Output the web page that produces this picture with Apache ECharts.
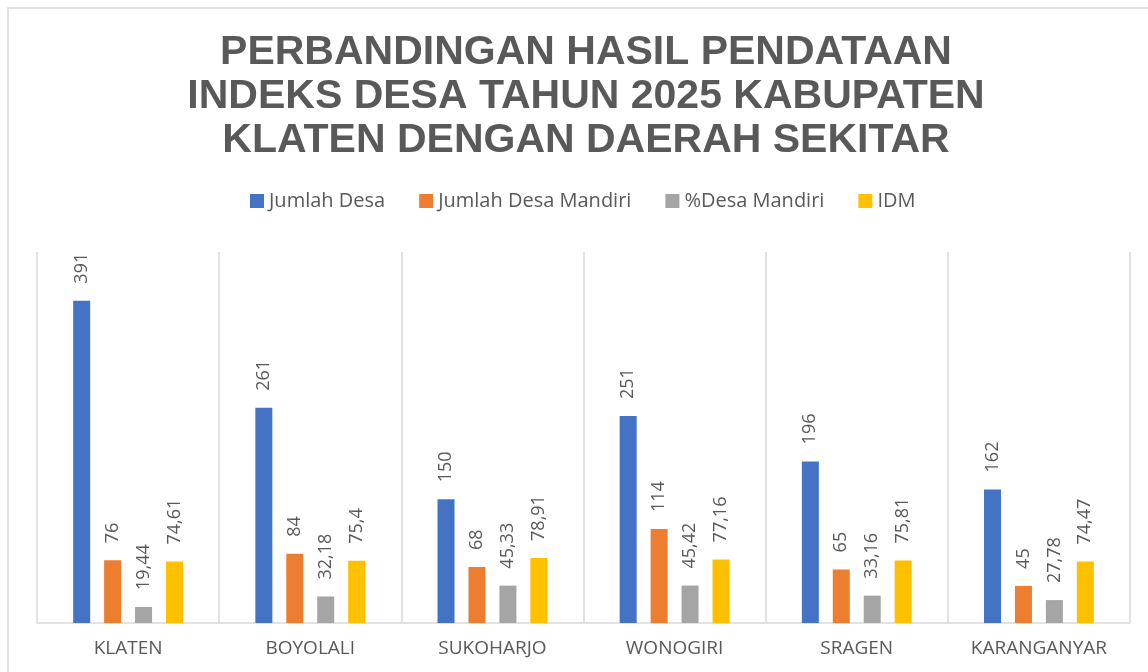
<!DOCTYPE html>
<html>
<head>
<meta charset="utf-8">
<script src="https://cdn.jsdelivr.net/npm/echarts@6/dist/echarts.min.js"></script>
<style>
html, body { margin: 0; padding: 0; background: #fff; }
#chart { width: 1148px; height: 672px; }
</style>
</head>
<body>
<div id="chart"></div>
<script>
var categories = ['KLATEN', 'BOYOLALI', 'SUKOHARJO', 'WONOGIRI', 'SRAGEN', 'KARANGANYAR'];
var jumlahDesa = [391, 261, 150, 251, 196, 162];
var jumlahMandiri = [76, 84, 68, 114, 65, 45];
var persenMandiri = [19.44, 32.18, 45.33, 45.42, 33.16, 27.78];
var idm = [74.61, 75.4, 78.91, 77.16, 75.81, 74.47];

var seriesNames = ['Jumlah Desa', 'Jumlah Desa Mandiri', '%Desa Mandiri', 'IDM'];
var colors = ['#4472C4', '#ED7D31', '#A5A5A5', '#FFC000'];

var myChart = echarts.init(document.getElementById('chart'));

function fmt(p) {
    // comma as decimal separator, like the original
    return String(p.value).replace('.', ',');
}

function makeSeries(name, data, color) {
    return {
        name: name,
        type: 'bar',
        data: data,
        barWidth: 17,
        barGap: '82%',
        itemStyle: { color: color },
        label: {
            show: true,
            position: 'top',
            rotate: 90,
            align: 'left',
            verticalAlign: 'middle',
            distance: 17,
            color: '#595959',
            fontSize: 18,
            fontFamily: 'Open Sans',
            formatter: fmt
        }
    };
}

var option = {
    animation: false,
    color: colors,
    title: {
        text: 'PERBANDINGAN HASIL PENDATAAN\nINDEKS DESA TAHUN 2025 KABUPATEN\nKLATEN DENGAN DAERAH SEKITAR',
        left: 581,
        top: 26,
        textAlign: 'center',
        textStyle: {
            color: '#595959',
            fontSize: 41,
            fontWeight: 'bold',
            fontFamily: 'Liberation Sans',
            lineHeight: 44
        }
    },
    legend: {
        data: seriesNames,
        top: 186,
        left: 245,
        icon: 'rect',
        itemWidth: 14,
        itemHeight: 14,
        itemGap: 34,
        textStyle: {
            color: '#595959',
            fontSize: 20,
            fontFamily: 'Open Sans'
        }
    },
    graphic: [{
        type: 'rect',
        shape: { x: 8, y: 8, width: 1200, height: 700 },
        style: { fill: 'none', stroke: '#d9d9d9', lineWidth: 1.5 },
        silent: true
    }],
    grid: {
        left: 37,
        right: 18,
        top: 252,
        bottom: 49
    },
    xAxis: {
        type: 'category',
        data: categories,
        axisTick: { show: false },
        axisLine: { lineStyle: { color: '#d9d9d9', width: 1.5 } },
        splitLine: { show: true, interval: 0, lineStyle: { color: '#d9d9d9', width: 1.5 } },
        axisLabel: {
            color: '#595959',
            fontSize: 19,
            fontFamily: 'Open Sans',
            margin: 16,
            interval: 0
        }
    },
    yAxis: {
        type: 'value',
        min: 0,
        max: 450,
        show: false,
        splitLine: { show: false }
    },
    series: [
        makeSeries(seriesNames[0], jumlahDesa, colors[0]),
        makeSeries(seriesNames[1], jumlahMandiri, colors[1]),
        makeSeries(seriesNames[2], persenMandiri, colors[2]),
        makeSeries(seriesNames[3], idm, colors[3])
    ]
};

myChart.setOption(option);
</script>
</body>
</html>
